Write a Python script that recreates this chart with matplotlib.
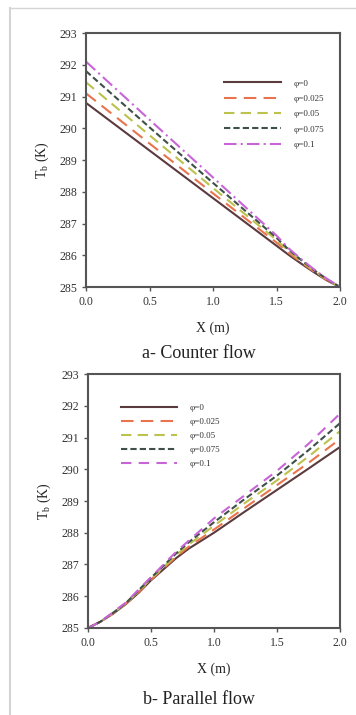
import matplotlib
matplotlib.use("Agg")
import matplotlib.pyplot as plt
from matplotlib.lines import Line2D

plt.rcParams["font.family"] = ["Liberation Serif", "DejaVu Serif"]

PHI_LABELS = ["φ=0", "φ=0.025", "φ=0.05", "φ=0.075", "φ=0.1"]
COLORS = ["#5b3b3e", "#e8744e", "#bcc24e", "#3f5048", "#c865d6"]

# counter flow
X_COUNTER = [0.0, 0.5, 1.0, 1.5, 1.6, 1.7, 1.8, 1.9, 2.0]
T_COUNTER = [
    [290.8, 289.3, 287.8, 286.3, 286.0, 285.72, 285.45, 285.2, 285.0],
    [291.1, 289.52, 287.95, 286.4, 286.06, 285.76, 285.47, 285.21, 285.0],
    [291.45, 289.78, 288.12, 286.48, 286.12, 285.8, 285.5, 285.23, 285.0],
    [291.8, 290.03, 288.28, 286.55, 286.16, 285.83, 285.52, 285.24, 285.0],
    [292.1, 290.27, 288.45, 286.62, 286.2, 285.86, 285.54, 285.25, 285.0],
]

# parallel flow
X_PARALLEL = [0.0, 0.1, 0.2, 0.3, 0.4, 0.5, 0.6, 0.7, 0.8, 1.0, 1.25, 1.5, 1.75, 2.0]
T_PARALLEL = [
    [285.0, 285.2, 285.45, 285.75, 286.1, 286.5, 286.85, 287.2, 287.5, 288.0, 288.68, 289.35, 290.02, 290.7],
    [285.0, 285.2, 285.46, 285.76, 286.12, 286.52, 286.88, 287.24, 287.56, 288.1, 288.8, 289.5, 290.2, 290.95],
    [285.0, 285.2, 285.47, 285.77, 286.15, 286.55, 286.92, 287.3, 287.63, 288.22, 288.95, 289.65, 290.4, 291.2],
    [285.0, 285.2, 285.48, 285.78, 286.18, 286.58, 286.96, 287.35, 287.7, 288.33, 289.08, 289.8, 290.6, 291.45],
    [285.0, 285.2, 285.5, 285.8, 286.2, 286.6, 287.0, 287.4, 287.75, 288.45, 289.2, 289.95, 290.8, 291.75],
]

STYLES_COUNTER = ["-", (0, (6, 3.5)), (0, (5, 3)), (0, (3, 1.5)), (0, (6, 2, 1, 2))]
STYLES_PARALLEL = ["-", (0, (6, 3.5)), (0, (5, 3)), (0, (3, 1.5)), (0, (5, 3.5))]

fig = plt.figure(figsize=(3.56, 7.15), dpi=100)

# light frame of the original screenshot
fig.add_artist(Line2D([0.029, 0.029], [0.0, 0.989], color="#d4d4d4", lw=1.5, transform=fig.transFigure))
fig.add_artist(Line2D([0.029, 1.0], [0.989, 0.989], color="#d4d4d4", lw=1.0, transform=fig.transFigure))


def setup(ax):
    ax.set_xlim(0, 2.0)
    ax.set_ylim(285, 293)
    ax.set_xticks([0.0, 0.5, 1.0, 1.5, 2.0])
    ax.set_xticklabels(["0.0", "0.5", "1.0", "1.5", "2.0"])
    ax.set_yticks(range(285, 294))
    for s in ax.spines.values():
        s.set_color("#555555")
        s.set_linewidth(1.5)
    ax.tick_params(direction="out", length=3, width=1, color="#555555",
                   labelsize=8.5, labelcolor="#333333", top=False, right=False)
    ax.set_xlabel("X (m)", fontsize=10, color="#222222", labelpad=10)
    ax.set_ylabel("T$_\\mathregular{b}$ (K)", fontsize=10, color="#222222", labelpad=6)


ax1 = fig.add_axes([0.2416, 0.5986, 0.7135, 0.3552])
for t, c, ls, lab in zip(T_COUNTER, COLORS, STYLES_COUNTER, PHI_LABELS):
    ax1.plot(X_COUNTER, t, color=c, ls=ls, lw=1.5, label=lab)
setup(ax1)
ax1.legend(loc="upper left", bbox_to_anchor=(0.51, 0.85), frameon=False, fontsize=6.5,
           handlelength=6.4, handletextpad=1.4, labelspacing=0.78, labelcolor="#333333")
fig.text(0.56, 0.5, "a- Counter flow", ha="center", fontsize=13, color="#222222")

ax2 = fig.add_axes([0.247, 0.1217, 0.708, 0.3552])
for t, c, ls, lab in zip(T_PARALLEL, COLORS, STYLES_PARALLEL, PHI_LABELS):
    ax2.plot(X_PARALLEL, t, color=c, ls=ls, lw=1.5, label=lab)
setup(ax2)
ax2.legend(loc="upper left", bbox_to_anchor=(0.1, 0.915), frameon=False, fontsize=6.5,
           handlelength=6.2, handletextpad=1.4, labelspacing=0.62, labelcolor="#333333")
fig.text(0.56, 0.015, "b- Parallel flow", ha="center", fontsize=13, color="#222222")

fig.savefig("out.png", dpi=100)
